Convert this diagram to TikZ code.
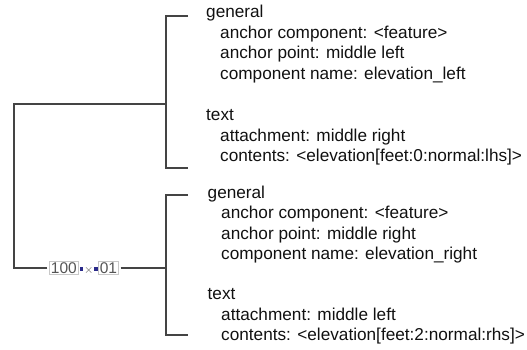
\documentclass[tikz,border=0pt]{standalone}
\usepackage{fontspec}
\setmainfont{Liberation Sans}
\definecolor{linegray}{HTML}{444444}
\definecolor{txt}{HTML}{111111}
\definecolor{lblgray}{HTML}{555555}
\definecolor{boxgray}{HTML}{C8C8C8}
\definecolor{dotblue}{HTML}{2A2A8A}
\begin{document}
\begin{tikzpicture}[x=1pt,y=-1pt,
  conn/.style={draw=linegray,line width=1.3pt},
  line/.style={anchor=mid west,inner sep=0pt,text=txt,font=\fontsize{17.2}{20}\selectfont},
  lbl/.style={inner sep=2pt,text=lblgray,font=\fontsize{15.5}{16}\selectfont}]
\useasboundingbox (0,0) rectangle (527,349);
% label node
\node[lbl] (root) at (84,268) {\setlength{\fboxsep}{1pt}\setlength{\fboxrule}{0.4pt}%
  \fcolorbox{boxgray}{white}{100}\hspace{1.5pt}{\color{dotblue}\rule[2.5pt]{3.5pt}{3.5pt}}\hspace{1pt}{\fontsize{12}{12}\selectfont$\times$}\hspace{1pt}{\color{dotblue}\rule[2.5pt]{3.5pt}{3.5pt}}\hspace{0.5pt}\fcolorbox{boxgray}{white}{01}};
% coordinates
\coordinate (lc) at (14,104);
\coordinate (lb) at (14,268);
\coordinate (tj) at (166,104);
\coordinate (tt) at (166,16);
\coordinate (tb) at (166,168);
\coordinate (tte) at (188,16);
\coordinate (tbe) at (188,168);
\coordinate (bj) at (166,268);
\coordinate (bt) at (166,195);
\coordinate (bb) at (166,335);
\coordinate (bte) at (188,195);
\coordinate (bbe) at (188,335);
% connectors
\draw[conn] (root.west) -- (lb) -- (lc) -- (tj);
\draw[conn] (root.east) -- (bj);
\draw[conn] (tte) -- (tt) -- (tb) -- (tbe);
\draw[conn] (bte) -- (bt) -- (bb) -- (bbe);
% top block
\node[line] (g1) at (206,15) {general};
\node[line] (ac1) at (220,35.5) {anchor component: <feature>};
\node[line] (ap1) at (220,56) {anchor point: middle left};
\node[line] (cn1) at (220,76.5) {component name: elevation\_left};
\node[line] (t1) at (206,118) {text};
\node[line] (at1) at (220,138.5) {attachment: middle right};
\node[line] (co1) at (220,159) {contents: <elevation[feet:0:normal:lhs]>};
% bottom block
\node[line] (g2) at (207.5,196) {general};
\node[line] (ac2) at (221,216) {anchor component: <feature>};
\node[line] (ap2) at (221,236.5) {anchor point: middle right};
\node[line] (cn2) at (221,257) {component name: elevation\_right};
\node[line] (t2) at (207.5,297) {text};
\node[line] (at2) at (221,317.5) {attachment: middle left};
\node[line] (co2) at (221,338) {contents: <elevation[feet:2:normal:rhs]>};
\end{tikzpicture}
\end{document}
